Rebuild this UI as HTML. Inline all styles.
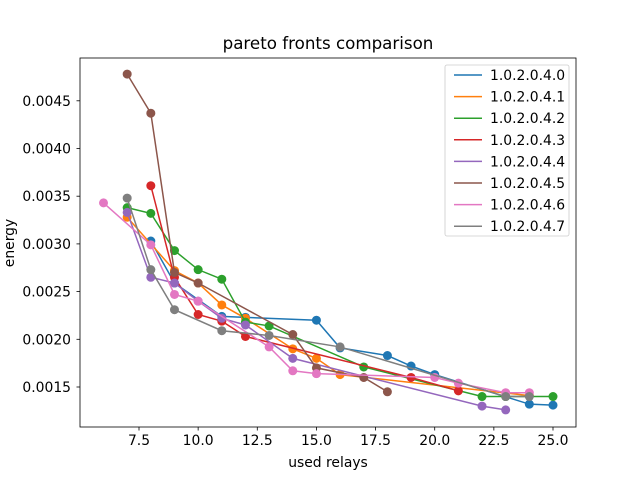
<!DOCTYPE html>
<html><head><meta charset="utf-8"><style>
body{margin:0;background:#fff}
svg{font-family:"DejaVu Sans","Liberation Sans",sans-serif}
</style></head><body>
<svg id="c" width="640" height="480"></svg>
<script>
const seriesNames=["1.0.2.0.4.0","1.0.2.0.4.1","1.0.2.0.4.2","1.0.2.0.4.3","1.0.2.0.4.4","1.0.2.0.4.5","1.0.2.0.4.6","1.0.2.0.4.7"];
const colors=["#1f77b4","#ff7f0e","#2ca02c","#d62728","#9467bd","#8c564b","#e377c2","#7f7f7f"];
const s0x=[8,9,11,12,15,16,18,19,20,24,25];
const s0y=[0.00303,0.00259,0.00224,0.00223,0.00220,0.00191,0.00183,0.00172,0.00163,0.00132,0.00131];
const s1x=[7,9,10,11,12,14,15,16,24];
const s1y=[0.00328,0.00272,0.00259,0.00236,0.00222,0.00190,0.00180,0.00163,0.00141];
const s2x=[7,8,9,10,11,12,13,17,22,23,25];
const s2y=[0.00338,0.00332,0.00293,0.00273,0.00263,0.00218,0.00214,0.00171,0.00140,0.00140,0.00140];
const s3x=[8,9,10,11,12,19,21];
const s3y=[0.00361,0.00265,0.00226,0.00219,0.00203,0.00160,0.00146];
const s4x=[7,8,9,10,11,12,14,22,23];
const s4y=[0.00333,0.00265,0.00259,0.00240,0.00222,0.00215,0.00180,0.00130,0.00126];
const s5x=[7,8,9,10,14,15,17,18];
const s5y=[0.00478,0.00437,0.00270,0.00259,0.00205,0.00170,0.00160,0.00145];
const s6x=[6,8,9,10,13,14,15,20,21,23,24];
const s6y=[0.00343,0.00299,0.00247,0.00240,0.00192,0.00167,0.00164,0.00160,0.00154,0.00144,0.00144];
const s7x=[7,8,9,11,13,16,23,24];
const s7y=[0.00348,0.00273,0.00231,0.00209,0.00204,0.00192,0.00140,0.00140];
const xTicks=[7.5,10,12.5,15,17.5,20,22.5,25];
const xTickLabels=["7.5","10.0","12.5","15.0","17.5","20.0","22.5","25.0"];
const yTicks=[0.0015,0.002,0.0025,0.003,0.0035,0.004,0.0045];
const yTickLabels=["0.0015","0.0020","0.0025","0.0030","0.0035","0.0040","0.0045"];

const NS="http://www.w3.org/2000/svg";
const svg=document.getElementById('c');
const L=80,R=576,T=58,B=427;
const X=v=>139+(v-7.5)*(414/17.5);
const Y=v=>387-(v-0.0015)/0.0005*47.7;
function mk(t,a,p){const e=document.createElementNS(NS,t);for(const k in a)e.setAttribute(k,a[k]);(p||svg).appendChild(e);return e;}
const xs=[s0x,s1x,s2x,s3x,s4x,s5x,s6x,s7x], ys=[s0y,s1y,s2y,s3y,s4y,s5y,s6y,s7y];
xs.forEach((sx,i)=>{
  const g=mk('g',{});
  
  
  const pts=sx.map((x,j)=>X(x)+','+Y(ys[i][j])).join(' ');
  const pl=mk('polyline',{points:pts,fill:'none',stroke:colors[i],'stroke-width':1.5},g);
  
  
  sx.forEach((x,j)=>{
    const c=mk('circle',{cx:X(x),cy:Y(ys[i][j]),r:4.5,fill:colors[i]},g);
    
    
  });
});
const fr=mk('rect',{x:L,y:T,width:R-L,height:B-T,fill:'none',stroke:'#000','stroke-width':0.8});


xTicks.forEach((v,i)=>{
  mk('line',{x1:X(v),x2:X(v),y1:B,y2:B+3.5,stroke:'#000','stroke-width':0.8});
  const t=mk('text',{x:X(v),y:B+18,'text-anchor':'middle','font-size':13.9});
  t.textContent=xTickLabels[i];
  
  
});
yTicks.forEach((v,i)=>{
  mk('line',{x1:L-3.5,x2:L,y1:Y(v),y2:Y(v),stroke:'#000','stroke-width':0.8});
  const t=mk('text',{x:L-9,y:Y(v)+5,'text-anchor':'end','font-size':13.9});
  t.textContent=yTickLabels[i];
  
  
});
let t=mk('text',{x:328,y:49,'text-anchor':'middle','font-size':16.7});t.textContent='pareto fronts comparison';


t=mk('text',{x:328,y:467,'text-anchor':'middle','font-size':13.9});t.textContent='used relays';


t=mk('text',{x:14,y:243,'text-anchor':'middle','font-size':13.9,transform:'rotate(-90 14 243)'});t.textContent='energy';


const lg=mk('g',{});


mk('rect',{x:445,y:65,width:124,height:171,rx:2,fill:'#fff','fill-opacity':0.8,stroke:'#ccc','stroke-width':0.8},lg);
seriesNames.forEach((n,i)=>{
  const y=75+i*21.6;
  const e=mk('g',{},lg);
  
  
  mk('line',{x1:454,x2:482,y1:y,y2:y,stroke:colors[i],'stroke-width':1.5},e);
  const tt=mk('text',{x:490,y:y+5,'font-size':13.9},e);tt.textContent=n;
});
</script>
</body></html>
